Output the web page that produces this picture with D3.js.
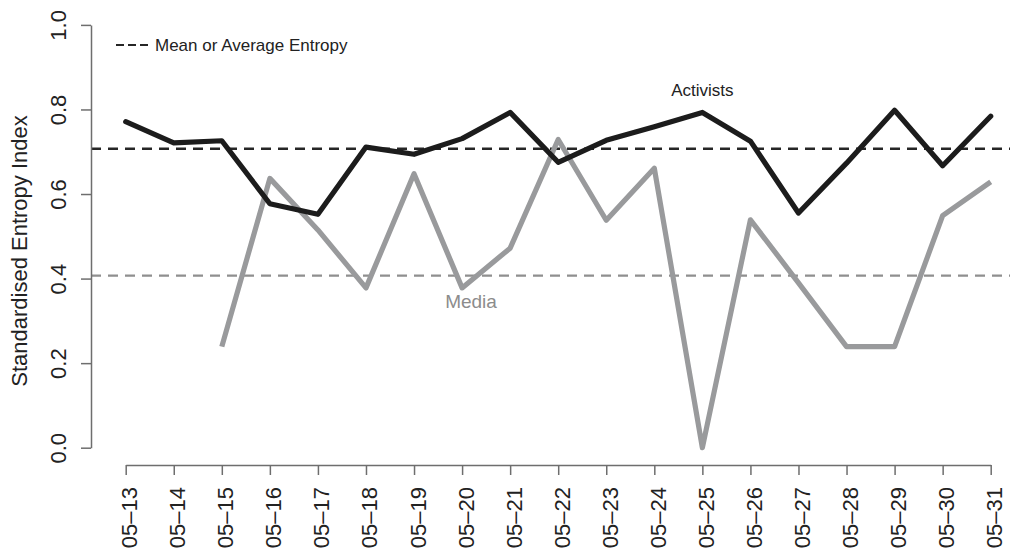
<!DOCTYPE html>
<html><head><meta charset="utf-8">
<script src="https://cdn.jsdelivr.net/npm/d3@7/dist/d3.min.js"></script>
<style>
html,body{margin:0;padding:0;background:#fff;}
svg{display:block;font-family:"Liberation Sans",Arial,Helvetica,sans-serif;}
</style></head>
<body>
<svg id="chart" width="1010" height="552"></svg>
<script>
const dates = ["05\u201313","05\u201314","05\u201315","05\u201316","05\u201317","05\u201318","05\u201319","05\u201320","05\u201321","05\u201322","05\u201323","05\u201324","05\u201325","05\u201326","05\u201327","05\u201328","05\u201329","05\u201330","05\u201331"];
const activists = [0.771,0.721,0.726,0.577,0.552,0.711,0.694,0.731,0.793,0.675,0.727,0.759,0.793,0.725,0.555,0.673,0.798,0.667,0.784];
const media = [null,null,0.239,0.637,0.515,0.378,0.648,0.378,0.472,0.729,0.538,0.661,0.0,0.539,0.39,0.239,0.239,0.549,0.629];
const meanActivists = 0.707;
const meanMedia = 0.407;
const yTicks = [0,0.2,0.4,0.6,0.8,1.0];
const legendLabel = "Mean or Average Entropy";
const yTitle = "Standardised Entropy Index";

const svg = d3.select("#chart");
const x = d3.scalePoint().domain(dates).range([125.7, 990.7]);
const y = d3.scaleLinear().domain([0,1]).range([447.7, 24.9]);
const axisCol = "#6e6e6e";
const textCol = "#222";

// mean lines
svg.append("line").attr("x1",91).attr("x2",1010)
  .attr("y1",y(meanActivists)).attr("y2",y(meanActivists))
  .attr("stroke","#262626").attr("stroke-width",2.4).attr("stroke-dasharray","10,7");
svg.append("line").attr("x1",91).attr("x2",1010)
  .attr("y1",y(meanMedia)).attr("y2",y(meanMedia))
  .attr("stroke","#8f8f8f").attr("stroke-width",2.4).attr("stroke-dasharray","10,7");

// series
const line = d3.line().defined(d=>d.v!==null).x(d=>x(d.d)).y(d=>y(d.v));
svg.append("path").datum(dates.map((d,i)=>({d, v:media[i]})))
  .attr("d",line).attr("fill","none").attr("stroke","#999a9c")
  .attr("stroke-width",5.2).attr("stroke-linejoin","round").attr("stroke-linecap","butt");
svg.append("path").datum(dates.map((d,i)=>({d, v:activists[i]})))
  .attr("d",line).attr("fill","none").attr("stroke","#1c1c1c")
  .attr("stroke-width",5.2).attr("stroke-linejoin","round").attr("stroke-linecap","round");

// y axis
const ya = svg.append("g").attr("transform","translate(91,0)")
  .call(d3.axisLeft(y).tickValues(yTicks).tickFormat(d3.format(".1f")).tickSize(10).tickSizeOuter(0));
ya.select(".domain").attr("stroke",axisCol).attr("stroke-width",1.5);
ya.selectAll(".tick line").attr("stroke",axisCol).attr("stroke-width",1.5);
ya.selectAll(".tick text").attr("x",null).attr("dy",null)
  .attr("transform","translate(-25,0) rotate(-90)")
  .attr("text-anchor","middle").attr("fill",textCol)
  .style("font-size","22px").style("font-family","inherit");

// x axis
const xa = svg.append("g").attr("transform","translate(0,465)")
  .call(d3.axisBottom(x).tickSize(10).tickSizeOuter(0));
xa.select(".domain").attr("stroke",axisCol).attr("stroke-width",1.5);
xa.selectAll(".tick line").attr("stroke",axisCol).attr("stroke-width",1.5);
xa.selectAll(".tick text").attr("y",null).attr("dy",null)
  .attr("transform","translate(11,22) rotate(-90)")
  .attr("text-anchor","end").attr("fill",textCol)
  .style("font-size","22px").style("font-family","inherit");

// y title
svg.append("text").attr("transform","translate(27,251) rotate(-90)")
  .attr("text-anchor","middle").attr("fill",textCol).style("font-size","22px").text(yTitle);

// legend
svg.append("line").attr("x1",116).attr("x2",148).attr("y1",45).attr("y2",45)
  .attr("stroke","#262626").attr("stroke-width",1.8).attr("stroke-dasharray","8,4");
svg.append("text").attr("x",155).attr("y",51).attr("fill",textCol)
  .style("font-size","17px").text(legendLabel);

// series labels
svg.append("text").attr("x",x("05\u201325")).attr("y",96).attr("text-anchor","middle")
  .attr("fill",textCol).style("font-size","17px").text("Activists");
svg.append("text").attr("x",471).attr("y",308).attr("text-anchor","middle")
  .attr("fill","#8c8c8c").style("font-size","19px").text("Media");
</script>
</body></html>
